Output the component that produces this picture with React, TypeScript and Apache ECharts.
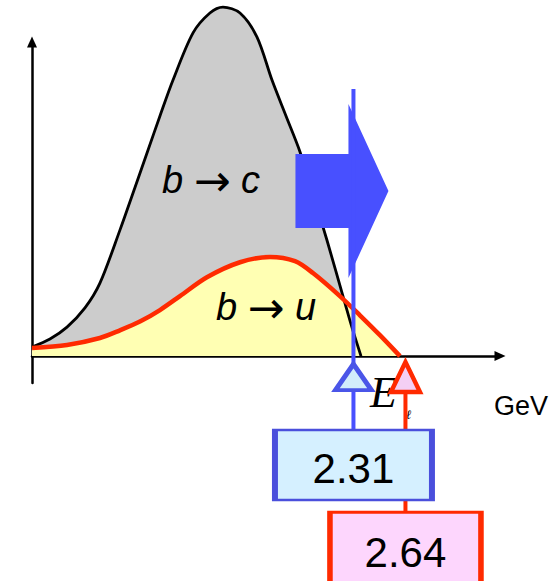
import { useEffect, useRef } from "react";
import * as echarts from "echarts";

// Lepton energy spectrum (GeV) for b → c and b → u, arbitrary rate units
const bcEnergy = [0.27, 0.384, 0.492, 0.606, 0.701, 0.828, 0.924, 1.006, 1.082, 1.165, 1.292, 1.399, 1.482, 1.59, 1.698, 1.793, 1.882, 1.971, 2.053, 2.142, 2.256, 2.3, 2.358];
const bcRate = [2.6, 4.9, 8.3, 13.8, 20.9, 36.1, 48.4, 59.0, 68.8, 79.1, 92.6, 98.3, 100, 98.3, 91.4, 79.1, 68.8, 58.5, 46.4, 33.2, 15.2, 8.3, 0];

const buEnergy = [0.27, 0.492, 0.701, 0.828, 0.955, 1.082, 1.209, 1.38, 1.59, 1.78, 1.939, 2.053, 2.224, 2.351, 2.478, 2.605];
const buRate = [2.3, 3.2, 5.2, 7.4, 9.9, 13.2, 17.2, 22.6, 26.9, 28.4, 27.2, 23.8, 17.2, 11.7, 6.0, 0];

// Lepton energy cuts (GeV): b → c endpoint cut and b → u endpoint
const cuts = [2.31, 2.64];

const SANS = '"Liberation Sans", Arial, Helvetica, sans-serif';
const SERIF = '"Liberation Serif", "Times New Roman", serif';
const BLUE = "#4850ff";
const RED = "#ff2a00";

const zip = (xs: number[], ys: number[]) => xs.map((x, i) => [x, ys[i]]);

const processLabel = (from: string, to: string) => ({
  text: `{i|${from}} {a|→} {i|${to}}`,
  fontFamily: SANS,
  fontSize: 38,
  fill: "#000",
  align: "center",
  verticalAlign: "middle",
  rich: {
    i: { fontStyle: "italic", fontFamily: SANS, fontSize: 38 },
    a: { fontFamily: '"DejaVu Sans", sans-serif', fontSize: 44 },
  },
});

export default function App() {
  const ref = useRef<HTMLDivElement>(null);

  useEffect(() => {
    if (!ref.current) return;
    const chart = echarts.init(ref.current, null, { renderer: "svg" });

    const bc = zip(bcEnergy, bcRate);
    const bu = zip(buEnergy, buRate);
    const arrowLevel = 47.3;

    const option: any = {
      animation: false,
      backgroundColor: "#ffffff",
      grid: { left: 32, right: 55, top: 42, bottom: 198 },
      xAxis: {
        type: "value",
        min: 0.27,
        max: 3.24,
        axisLine: {
          show: true,
          onZero: true,
          symbol: ["none", "triangle"],
          symbolSize: [10, 11],
          lineStyle: { color: "#000", width: 2.5 },
        },
        axisTick: { show: false },
        axisLabel: { show: false },
        splitLine: { show: false },
      },
      yAxis: {
        type: "value",
        min: -7.7,
        max: 90,
        axisLine: {
          show: true,
          onZero: false,
          symbol: ["none", "triangle"],
          symbolSize: [10, 11],
          lineStyle: { color: "#000", width: 2.5 },
        },
        axisTick: { show: false },
        axisLabel: { show: false },
        splitLine: { show: false },
      },
      series: [
        {
          type: "line",
          name: "b→c area",
          data: bc,
          smooth: 0.3,
          showSymbol: false,
          clip: false,
          z: 1,
          lineStyle: { width: 0, opacity: 0 },
          areaStyle: { color: "#cccccc", opacity: 1 },
        },
        {
          type: "line",
          name: "b→u area",
          data: bu,
          smooth: 0.3,
          showSymbol: false,
          clip: false,
          z: 1,
          lineStyle: { width: 0, opacity: 0 },
          areaStyle: { color: "#ffffb3", opacity: 1 },
        },
        {
          type: "line",
          name: "b→c",
          data: bc,
          smooth: 0.3,
          showSymbol: false,
          clip: false,
          z: 2,
          lineStyle: { color: "#000", width: 2.8 },
        },
        {
          type: "line",
          name: "b→u",
          data: bu,
          smooth: 0.3,
          showSymbol: false,
          clip: false,
          z: 2,
          lineStyle: { color: RED, width: 4.5 },
        },
        {
          type: "custom",
          name: "shift",
          clip: false,
          z: 3,
          data: [[cuts[0], arrowLevel]],
          renderItem: (_params: any, api: any) => {
            const [cx, cy] = api.coord([api.value(0), api.value(1)]);
            return {
              type: "polygon",
              shape: {
                points: [
                  [cx - 58, cy - 37],
                  [cx - 5, cy - 37],
                  [cx - 5, cy - 87],
                  [cx + 35, cy],
                  [cx - 5, cy + 87],
                  [cx - 5, cy + 37],
                  [cx - 58, cy + 37],
                ],
              },
              style: { fill: BLUE },
            };
          },
        },
        {
          type: "line",
          name: "cut 1",
          data: [[cuts[0], 76.5], [cuts[0], -25]],
          showSymbol: false,
          clip: false,
          z: 4,
          lineStyle: { color: BLUE, width: 4 },
        },
        {
          type: "line",
          name: "cut 2",
          data: [[cuts[1], -5], [cuts[1], -48]],
          showSymbol: false,
          clip: false,
          z: 4,
          lineStyle: { color: RED, width: 4 },
        },
        {
          type: "scatter",
          name: "marker 1",
          data: [[cuts[0], -6.0]],
          symbol: "triangle",
          symbolSize: [36, 26],
          clip: false,
          z: 5,
          itemStyle: {
            color: "#d2ecfb",
            borderColor: "#4a55e8",
            borderWidth: 4.5,
            borderJoin: "miter",
            opacity: 1,
          },
        },
        {
          type: "scatter",
          name: "marker 2",
          data: [[cuts[1], -6.0]],
          symbol: "triangle",
          symbolSize: [29, 30],
          clip: false,
          z: 5,
          itemStyle: {
            color: "#f4cff4",
            borderColor: RED,
            borderWidth: 4.5,
            borderJoin: "miter",
            opacity: 1,
          },
        },
        {
          type: "scatter",
          name: "value 2",
          data: [[cuts[1], -55.9]],
          symbol: "rect",
          symbolSize: [151, 78],
          clip: false,
          z: 5,
          itemStyle: { color: "#fdd6fd", borderColor: RED, borderWidth: 4, opacity: 1 },
          label: {
            show: true,
            position: "inside",
            formatter: (p: any) => p.value[0].toFixed(2),
            fontFamily: SANS,
            fontSize: 42,
            color: "#000",
            offset: [0, 1],
          },
        },
        {
          type: "scatter",
          name: "value 1",
          data: [[cuts[0], -31.2]],
          symbol: "rect",
          symbolSize: [157, 70],
          clip: false,
          z: 6,
          itemStyle: { color: "#d5f0ff", borderColor: "#4a4fdc", borderWidth: 4, opacity: 1 },
          label: {
            show: true,
            position: "inside",
            formatter: (p: any) => p.value[0].toFixed(2),
            fontFamily: SANS,
            fontSize: 42,
            color: "#000",
            offset: [0, 3],
          },
        },
      ],
      graphic: [
        { type: "text", x: 211, y: 180, z: 20, style: processLabel("b", "c") },
        { type: "text", x: 266, y: 307, z: 20, style: processLabel("b", "u") },
        {
          type: "text",
          x: 370,
          y: 392,
          z: 3,
          style: {
            text: "E",
            fontFamily: SERIF,
            fontStyle: "italic",
            fontSize: 44,
            fill: "#000",
            align: "left",
            verticalAlign: "middle",
          },
        },
        {
          type: "text",
          x: 406,
          y: 414,
          z: 3,
          style: {
            text: "ℓ",
            fontFamily: '"DejaVu Serif", serif',
            fontStyle: "italic",
            fontSize: 13,
            fill: "#000",
            align: "left",
            verticalAlign: "middle",
          },
        },
        {
          type: "text",
          x: 494,
          y: 406,
          z: 20,
          style: {
            text: "GeV",
            fontFamily: SANS,
            fontSize: 27,
            fill: "#000",
            align: "left",
            verticalAlign: "middle",
          },
        },
      ],
    };

    chart.setOption(option);
    return () => chart.dispose();
  }, []);

  return (
    <div
      ref={ref}
      style={{ position: "fixed", left: 0, top: 0, width: 555, height: 581, background: "#fff" }}
    />
  );
}
